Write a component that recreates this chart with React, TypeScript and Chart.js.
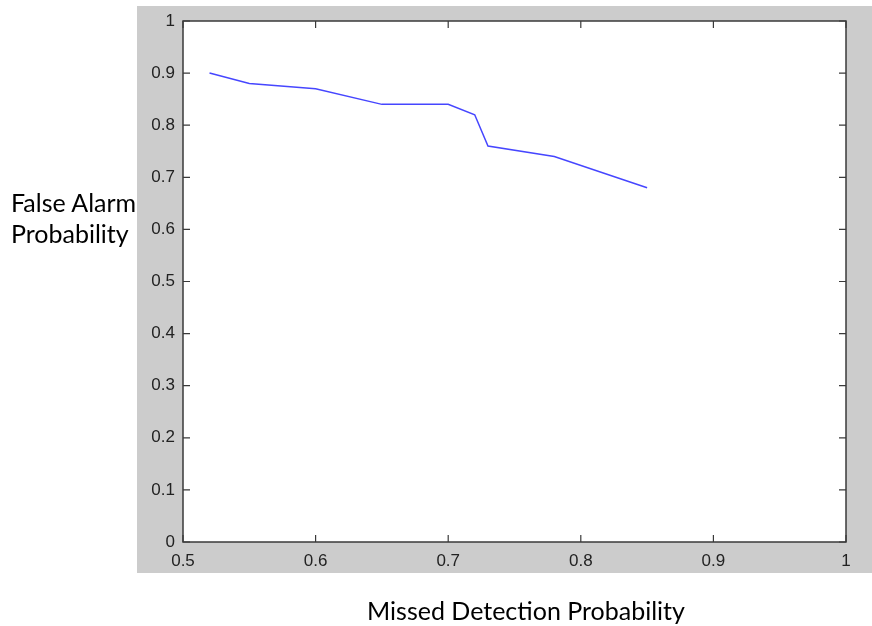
import React, { useEffect, useRef } from "react";
import { Chart, registerables } from "chart.js";

Chart.register(...registerables);

const missedDetection = [0.52, 0.55, 0.6, 0.65, 0.7, 0.72, 0.73, 0.78, 0.85];
const falseAlarm = [0.9, 0.88, 0.87, 0.84, 0.84, 0.82, 0.76, 0.74, 0.68];
const xTitle = "Missed Detection Probability";
const yTitleLines = ["False Alarm", "Probability"];

const fmt = (v: number) => String(Number(Number(v).toFixed(1)));

const framePlugin = {
  id: "frame",
  beforeDraw(chart: any) {
    const { ctx, chartArea } = chart;
    ctx.save();
    ctx.fillStyle = "#cccccc";
    ctx.fillRect(137, 6, 735, 567);
    ctx.fillStyle = "#ffffff";
    ctx.fillRect(chartArea.left, chartArea.top, chartArea.right - chartArea.left, chartArea.bottom - chartArea.top);
    ctx.restore();
  },
  afterDraw(chart: any) {
    const { ctx, chartArea } = chart;
    const { left, right, top, bottom } = chartArea;
    const xs = chart.scales.x;
    const ys = chart.scales.y;
    const len = 7;
    ctx.save();
    ctx.strokeStyle = "#3a3a3a";
    ctx.lineWidth = 1.5;
    ctx.strokeRect(left, top, right - left, bottom - top);
    ctx.lineWidth = 1.2;
    ctx.beginPath();
    xs.ticks.forEach((t: any) => {
      const px = xs.getPixelForValue(t.value);
      ctx.moveTo(px, bottom);
      ctx.lineTo(px, bottom - len);
      ctx.moveTo(px, top);
      ctx.lineTo(px, top + len);
    });
    ys.ticks.forEach((t: any) => {
      const py = ys.getPixelForValue(t.value);
      ctx.moveTo(left, py);
      ctx.lineTo(left + len, py);
      ctx.moveTo(right, py);
      ctx.lineTo(right - len, py);
    });
    ctx.stroke();
    ctx.restore();
  },
};

export default function App() {
  const ref = useRef<HTMLCanvasElement | null>(null);

  useEffect(() => {
    if (!ref.current) return;
    const chart = new Chart(ref.current, {
      type: "line",
      data: {
        datasets: [
          {
            data: missedDetection.map((x, i) => ({ x, y: falseAlarm[i] })),
            borderColor: "#4646ff",
            borderWidth: 1.5,
            pointRadius: 0,
            tension: 0,
            fill: false,
          },
        ],
      },
      options: {
        animation: false,
        responsive: false,
        devicePixelRatio: 1,
        layout: { padding: { left: 0, top: 21, right: 26, bottom: 0 } },
        plugins: { legend: { display: false }, tooltip: { enabled: false } },
        scales: {
          x: {
            type: "linear",
            min: 0.5,
            max: 1,
            afterFit: (s: any) => {
              s.height = 84;
            },
            grid: { display: false, drawTicks: false },
            border: { display: false },
            ticks: {
              stepSize: 0.1,
              padding: 9,
              color: "#222222",
              font: { family: "Liberation Sans", size: 17 },
              callback: (v: any) => fmt(v),
              maxRotation: 0,
            },
          },
          y: {
            type: "linear",
            min: 0,
            max: 1,
            afterFit: (s: any) => {
              s.width = 183;
            },
            grid: { display: false, drawTicks: false },
            border: { display: false },
            ticks: {
              stepSize: 0.1,
              padding: 8,
              color: "#222222",
              font: { family: "Liberation Sans", size: 17 },
              callback: (v: any) => fmt(v),
            },
          },
        },
      },
      plugins: [framePlugin],
    });
    return () => chart.destroy();
  }, []);

  return (
    <div style={{ position: "absolute", left: 0, top: 0, width: 872, height: 626, background: "#fff" }}>
      <canvas ref={ref} width={872} height={626} style={{ position: "absolute", left: 0, top: 0 }} />
      <div
        style={{
          position: "absolute",
          left: 11,
          top: 187,
          fontFamily: "Lato",
          fontSize: 25,
          lineHeight: "31px",
          color: "#000",
          whiteSpace: "nowrap",
        }}
      >
        {yTitleLines.map((l) => (
          <div key={l}>{l}</div>
        ))}
      </div>
      <div
        style={{
          position: "absolute",
          left: 0,
          width: 1052,
          top: 595,
          textAlign: "center",
          fontFamily: "Lato",
          fontSize: 25,
          lineHeight: "31px",
          color: "#000",
          whiteSpace: "nowrap",
        }}
      >
        {xTitle}
      </div>
    </div>
  );
}
